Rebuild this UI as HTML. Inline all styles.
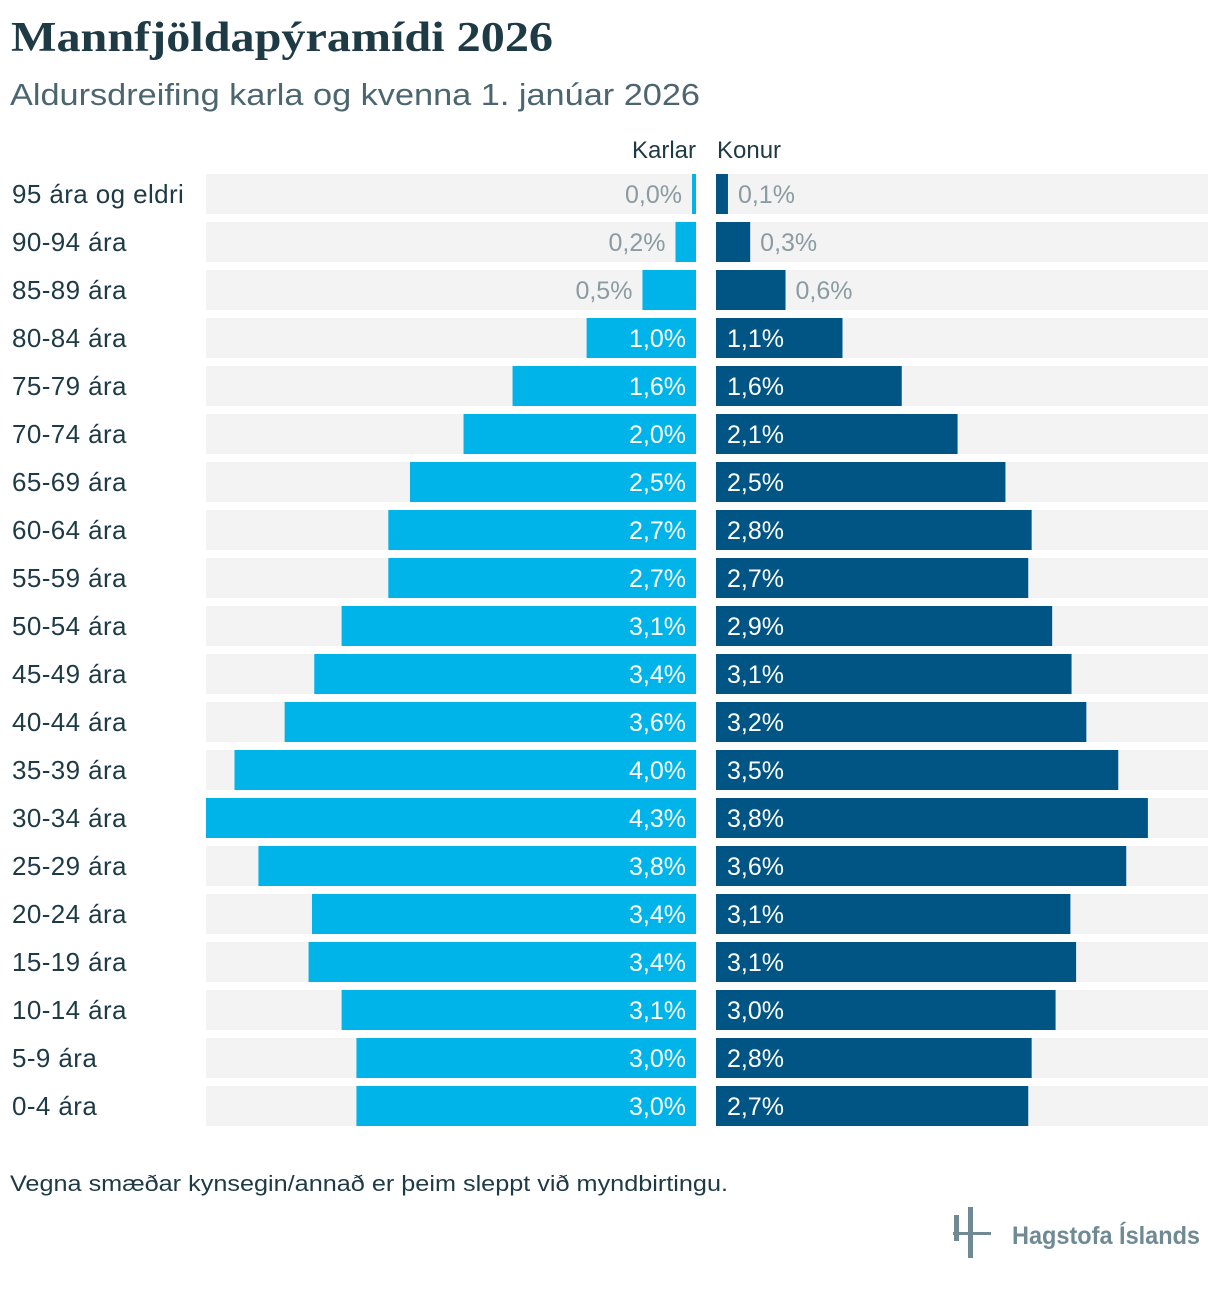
<!DOCTYPE html>
<html><head><meta charset="utf-8">
<style>
body{margin:0;width:1220px;height:1284px;background:#fff;overflow:hidden;font-family:"Liberation Sans",sans-serif;color:#1d3a45}
svg text{font-family:"Liberation Sans",sans-serif}
</style></head>
<body>
<svg id="chart" width="1220" height="1284" xmlns="http://www.w3.org/2000/svg">
<text x="11" y="51" font-weight="bold" font-size="42" fill="#1d3a45" textLength="542" lengthAdjust="spacingAndGlyphs" style="font-family:'Liberation Serif',serif">Mannfjöldapýramídi 2026</text>
<text x="10" y="105" font-size="31" fill="#4c6670" textLength="690" lengthAdjust="spacingAndGlyphs">Aldursdreifing karla og kvenna 1. janúar 2026</text>
<text x="696" y="158" text-anchor="end" font-size="24" fill="#1d3a45">Karlar</text>
<text x="717" y="158" font-size="24" fill="#1d3a45">Konur</text>
<g id="rows"></g>
<text x="10" y="1191" font-size="22" fill="#1d3a45" textLength="718" lengthAdjust="spacingAndGlyphs">Vegna smæðar kynsegin/annað er þeim sleppt við myndbirtingu.</text>
<g fill="#6f8a93">
<rect x="954" y="1215" width="5" height="26"/>
<rect x="968" y="1207" width="5" height="51"/>
<rect x="953" y="1232" width="38" height="3"/>
<text x="1012" y="1244" font-size="25" font-weight="bold" fill="#6f8a93" textLength="188" lengthAdjust="spacingAndGlyphs">Hagstofa Íslands</text>
</g>
</svg>
<script>
const ageGroups=["95 ára og eldri","90-94 ára","85-89 ára","80-84 ára","75-79 ára","70-74 ára","65-69 ára","60-64 ára","55-59 ára","50-54 ára","45-49 ára","40-44 ára","35-39 ára","30-34 ára","25-29 ára","20-24 ára","15-19 ára","10-14 ára","5-9 ára","0-4 ára"];
const maleValues=[0.035,0.18,0.47,0.96,1.61,2.04,2.51,2.70,2.70,3.11,3.35,3.61,4.05,4.30,3.84,3.37,3.40,3.11,2.98,2.98];
const femaleValues=[0.105,0.30,0.61,1.11,1.63,2.12,2.54,2.77,2.74,2.95,3.12,3.25,3.53,3.79,3.60,3.11,3.16,2.98,2.77,2.74];
const maleLabels=["0,0%","0,2%","0,5%","1,0%","1,6%","2,0%","2,5%","2,7%","2,7%","3,1%","3,4%","3,6%","4,0%","4,3%","3,8%","3,4%","3,4%","3,1%","3,0%","3,0%"];
const femaleLabels=["0,1%","0,3%","0,6%","1,1%","1,6%","2,1%","2,5%","2,8%","2,7%","2,9%","3,1%","3,2%","3,5%","3,8%","3,6%","3,1%","3,1%","3,0%","2,8%","2,7%"];
const NS="http://www.w3.org/2000/svg";
const g=document.getElementById('rows');
const maxV=4.3, halfW=490;
const xL=v=>v/maxV*halfW;
const yRow=i=>174+i*48;
function mk(t,a){const e=document.createElementNS(NS,t);for(const k in a)e.setAttribute(k,a[k]);g.appendChild(e);return e;}
ageGroups.forEach((lab,i)=>{
  const y=yRow(i);
  const t=mk('text',{x:12,y:y+29,'font-size':26,fill:'#1d3a45','letter-spacing':'0.4'});t.textContent=lab;
  
  
  const b1=mk('rect',{x:206,y:y,width:490,height:40,fill:'#f3f3f3'});
  
  
  const b2=mk('rect',{x:716,y:y,width:492,height:40,fill:'#f3f3f3'});
  
  
  const mw=xL(maleValues[i]);
  const m=mk('rect',{x:696-mw,y:y,width:mw,height:40,fill:'#00b4ea'});
  
  
  const fw=xL(femaleValues[i]);
  const f=mk('rect',{x:716,y:y,width:fw,height:40,fill:'#005585'});
  
  
  const mIn=mw>90;
  const ml=mk('text',{x:mIn?686:696-mw-10,y:y+29,'text-anchor':'end','font-size':25,fill:mIn?'#ffffff':'#8a9ca2'});ml.textContent=maleLabels[i];
  
  
  const fIn=fw>90;
  const fl=mk('text',{x:fIn?727:716+fw+10,y:y+29,'font-size':25,fill:fIn?'#ffffff':'#8a9ca2'});fl.textContent=femaleLabels[i];
  
  
});
</script>
</body></html>
